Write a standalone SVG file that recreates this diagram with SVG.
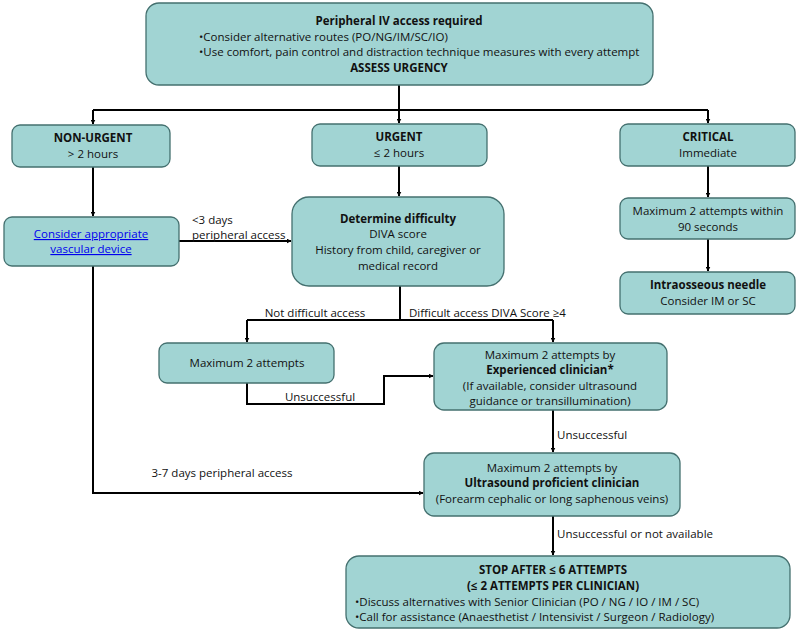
<svg xmlns="http://www.w3.org/2000/svg" width="800" height="643" viewBox="0 0 800 643">
<style>
.box{fill:#a1d4d3;stroke:#44706f;stroke-width:1.3}
text{font-family:"Open Sans","Liberation Sans",sans-serif;font-size:11.5px;fill:#111;text-anchor:middle}
.b{font-weight:bold}
.l{text-anchor:start}
.link{fill:#0000ee;text-decoration:underline}
.c{fill:none;stroke:#000;stroke-width:2}
</style>
<defs>
<marker id="a" viewBox="0 0 10 10" refX="9" refY="5" markerWidth="5" markerHeight="5" orient="auto" markerUnits="userSpaceOnUse">
<path d="M0,0 L10,5 L0,10 z" fill="#000"/>
</marker>
</defs>
<rect width="800" height="643" fill="#fff"/>
<g id="connectors">
<path class="c" d="M399,85 V110"/>
<path class="c" d="M93,110 H708"/>
<path class="c" d="M93,110 V124" marker-end="url(#a)"/>
<path class="c" d="M399,110 V123" marker-end="url(#a)"/>
<path class="c" d="M708,110 V123" marker-end="url(#a)"/>
<path class="c" d="M93,167 V216" marker-end="url(#a)"/>
<path class="c" d="M399,166 V196" marker-end="url(#a)"/>
<path class="c" d="M708,166 V197" marker-end="url(#a)"/>
<path class="c" d="M708,239 V271" marker-end="url(#a)"/>
<path class="c" d="M179,241 H291" marker-end="url(#a)"/>
<path class="c" d="M400,286 V320"/>
<path class="c" d="M247,320 H553"/>
<path class="c" d="M247,320 V342" marker-end="url(#a)"/>
<path class="c" d="M553,320 V342" marker-end="url(#a)"/>
<path class="c" d="M247,383 V404 H384 V376 H433" marker-end="url(#a)"/>
<path class="c" d="M553,410 V452" marker-end="url(#a)"/>
<path class="c" d="M93,266 V493 H423" marker-end="url(#a)"/>
<path class="c" d="M553,516 V555" marker-end="url(#a)"/>
<text class="l" x="192" y="224">&lt;3 days</text>
<text class="l" x="192" y="239">peripheral access</text>
<text x="315" y="317">Not difficult access</text>
<text class="l" x="409" y="317">Difficult access DIVA Score ≥4</text>
<text x="320" y="401">Unsuccessful</text>
<text class="l" x="557" y="439">Unsuccessful</text>
<text x="222" y="477">3-7 days peripheral access</text>
<text class="l" x="557" y="538">Unsuccessful or not available</text>
</g>
<g id="start">
<rect class="box" x="146" y="3" width="507" height="82" rx="13"/>
<text class="b" x="399" y="25">Peripheral IV access required</text>
<text class="l" x="199" y="41">•Consider alternative routes (PO/NG/IM/SC/IO)</text>
<text class="l" x="199" y="56">•Use comfort, pain control and distraction technique measures with every attempt</text>
<text class="b" x="399" y="72">ASSESS URGENCY</text>
</g>
<g id="nonurgent">
<rect class="box" x="12" y="125" width="158" height="42" rx="8"/>
<text class="b" x="93" y="142">NON-URGENT</text>
<text x="93" y="158">&gt; 2 hours</text>
</g>
<g id="urgent">
<rect class="box" x="312" y="124" width="175" height="42" rx="8"/>
<text class="b" x="399" y="141">URGENT</text>
<text x="399" y="157">≤ 2 hours</text>
</g>
<g id="critical">
<rect class="box" x="620" y="124" width="175" height="42" rx="8"/>
<text class="b" x="708" y="141">CRITICAL</text>
<text x="708" y="157">Immediate</text>
</g>
<g id="vascular">
<rect class="box" x="4" y="217" width="175" height="49" rx="8"/>
<text class="link" x="91" y="238">Consider appropriate</text>
<text class="link" x="91" y="253">vascular device</text>
</g>
<g id="difficulty">
<rect class="box" x="292" y="197" width="212" height="89" rx="17"/>
<text class="b" x="398" y="223">Determine difficulty</text>
<text x="398" y="238">DIVA score</text>
<text x="398" y="254">History from child, caregiver or</text>
<text x="398" y="270">medical record</text>
</g>
<g id="critical90">
<rect class="box" x="620" y="198" width="175" height="41" rx="8"/>
<text x="708" y="215">Maximum 2 attempts within</text>
<text x="708" y="231">90 seconds</text>
</g>
<g id="intraosseous">
<rect class="box" x="620" y="272" width="175" height="42" rx="8"/>
<text class="b" x="708" y="289">Intraosseous needle</text>
<text x="708" y="305">Consider IM or SC</text>
</g>
<g id="max2">
<rect class="box" x="159" y="343" width="175" height="40" rx="8"/>
<text x="247" y="367">Maximum 2 attempts</text>
</g>
<g id="experienced">
<rect class="box" x="434" y="343" width="233" height="67" rx="10"/>
<text x="550" y="359">Maximum 2 attempts by</text>
<text class="b" x="550" y="374">Experienced clinician*</text>
<text x="550" y="390">(If available, consider ultrasound</text>
<text x="550" y="405">guidance or transillumination)</text>
</g>
<g id="ultrasound">
<rect class="box" x="424" y="453" width="256" height="63" rx="10"/>
<text x="552" y="472">Maximum 2 attempts by</text>
<text class="b" x="552" y="487">Ultrasound proficient clinician</text>
<text x="552" y="503">(Forearm cephalic or long saphenous veins)</text>
</g>
<g id="stop">
<rect class="box" x="346" y="556" width="444" height="72" rx="13"/>
<text class="b" x="553" y="574">STOP AFTER ≤ 6 ATTEMPTS</text>
<text class="b" x="553" y="590">(≤ 2 ATTEMPTS PER CLINICIAN)</text>
<text class="l" x="355" y="606">•Discuss alternatives with Senior Clinician (PO / NG / IO / IM / SC)</text>
<text class="l" x="355" y="621">•Call for assistance (Anaesthetist / Intensivist / Surgeon / Radiology)</text>
</g>
</svg>
